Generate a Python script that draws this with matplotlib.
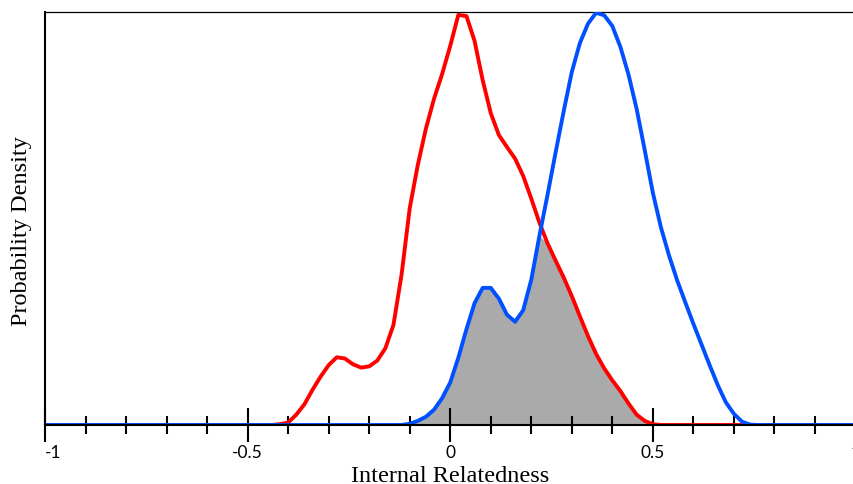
import numpy as np
from matplotlib import pyplot as plt

# relatedness grid (x) and the two density curves, scaled so the peak = 1
x_grid = [-1.0] + list(np.round(np.arange(-0.46, 0.781, 0.02), 2)) + [1.0]

red_vals = [0, 0, 0.002, 0.006, 0.025, 0.050, 0.085, 0.117, 0.145, 0.164,
            0.161, 0.147, 0.139, 0.142, 0.156, 0.186, 0.243, 0.365, 0.525, 0.630,
            0.718, 0.790, 0.850, 0.918, 0.993, 0.990, 0.930, 0.835, 0.755, 0.702,
            0.673, 0.645, 0.603, 0.548, 0.490, 0.440, 0.398, 0.357, 0.312, 0.263,
            0.215, 0.172, 0.137, 0.108, 0.082, 0.052, 0.025, 0.010, 0.002,
            0, 0, 0, 0, 0, 0, 0, 0, 0, 0, 0, 0, 0, 0]

blue_vals = [0, 0, 0, 0, 0, 0, 0, 0, 0, 0, 0, 0, 0, 0, 0, 0, 0, 0,
             0.003, 0.010, 0.020, 0.037, 0.065, 0.103, 0.163, 0.232, 0.295, 0.332,
             0.332, 0.306, 0.267, 0.250, 0.278, 0.352, 0.458, 0.557, 0.660, 0.760,
             0.855, 0.925, 0.972, 0.998, 0.992, 0.966, 0.915, 0.848, 0.765, 0.665,
             0.562, 0.478, 0.410, 0.350, 0.297, 0.245, 0.195, 0.145, 0.097, 0.055,
             0.027, 0.008, 0.001, 0, 0]

x = np.array(x_grid)
red = np.array([0] + red_vals + [0])
blue = np.array([0] + blue_vals + [0])

fig = plt.figure(figsize=(8.54, 4.84), dpi=100)
ax = fig.add_axes([45 / 854, 59 / 484, 810.5 / 854, 413 / 484])

# overlap of the two distributions
ax.fill_between(x, 0, np.minimum(red, blue), color="#aaaaaa", lw=0, zorder=1)
ax.plot(x, red, color="#ff0000", lw=2.8, zorder=2, solid_joinstyle="round")
ax.plot(x, blue, color="#0050ff", lw=2.8, zorder=3, solid_joinstyle="round")

ax.set_xlim(-1, 1)
ax.set_ylim(0, 1.0)

ax.spines["right"].set_visible(False)
ax.spines["top"].set_linewidth(0.9)
ax.spines["bottom"].set_linewidth(1.5)
ax.spines["left"].set_linewidth(1.5)
ax.spines["bottom"].set_zorder(5)
ax.spines["left"].set_zorder(5)

ax.set_yticks([])
ax.set_xticks([-1, -0.5, 0, 0.5, 1])
ax.set_xticklabels(["-1", "-0.5", "0", "0.5", "1"], fontfamily="Lato", fontsize=12.5)
ax.set_xticks(np.round(np.arange(-1, 1.01, 0.1), 1), minor=True)
ax.tick_params(axis="x", which="major", direction="inout", length=24.5, width=1.5, pad=2)
ax.tick_params(axis="x", which="minor", direction="inout", length=13, width=1.5)
ax.get_xticklabels()[0].set_horizontalalignment("left")

fig.text(450 / 854, 2 / 484, "Internal Relatedness", family="Liberation Serif",
         fontsize=17.5, ha="center", va="baseline")
fig.text(22 / 854, 1 - 231 / 484, "Probability Density", family="Liberation Serif",
         fontsize=17.5, ha="center", va="center", rotation=90)

plt.savefig("out.png", dpi=100)
